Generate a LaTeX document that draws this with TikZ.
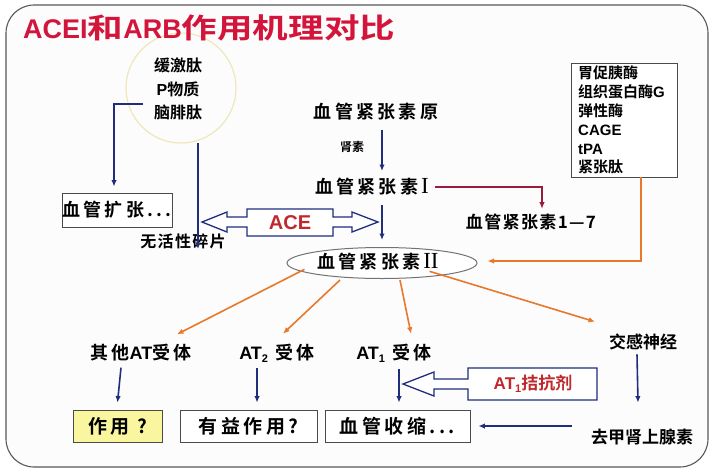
\documentclass[tikz,border=0pt]{standalone}
\usepackage{fontspec}
\usetikzlibrary{arrows.meta,shapes.geometric}
\newfontfamily\cjk{Noto Sans CJK SC Bold}
\newfontfamily\cjksp[LetterSpace=18]{Noto Sans CJK SC Bold}
\newfontfamily\cjkss[LetterSpace=8]{Noto Sans CJK SC Bold}
\newfontfamily\lat{Liberation Sans Bold}
\newfontfamily\rmI{Liberation Serif}
\newcommand\sbn[1]{\raisebox{-0.3ex}{\fontsize{11}{11}\selectfont #1}}
\newcommand\wide[1]{\scalebox{1.27}[1]{#1}}
\definecolor{navy}{HTML}{1F2D7B}
\definecolor{orng}{HTML}{E8782A}
\definecolor{dred}{HTML}{9B1B3F}
\definecolor{tred}{HTML}{D4153B}
\definecolor{lred}{HTML}{C0282D}
\definecolor{boxgray}{HTML}{4A4A4A}
\definecolor{yel}{HTML}{FAF6A0}
\definecolor{cyel}{HTML}{EEE8B8}
\begin{document}
\begin{tikzpicture}[x=1pt,y=-1pt,
  bigl/.style={font=\cjksp\fontsize{18}{20}\selectfont, inner sep=0pt},
  midl/.style={font=\cjkss\fontsize{17}{20}\selectfont, inner sep=0pt},
  smal/.style={font=\cjk\fontsize{15}{18.8}\selectfont, inner sep=0pt},
  bx/.style={draw=boxgray, line width=0.9pt, fill=white, inner sep=0pt},
  bluearr/.style={draw=navy, line width=1.6pt, -{Latex[length=6.5pt,width=5.5pt]}},
  orarr/.style={draw=orng, line width=1.6pt, -{Latex[length=6.5pt,width=5.5pt]}},
  redarr/.style={draw=dred, line width=1.4pt, -{Latex[length=6.5pt,width=5.5pt]}},
  hollow/.style={draw=navy, line width=1.3pt, fill=white, line join=miter},
]
\useasboundingbox (0,0) rectangle (713,475);
\fill[white] (0,0) rectangle (713,475);
\draw[rounded corners=28pt, line width=1.1pt, draw=black!65, fill=black!1] (6,5) rectangle (708,467);

% kinins circle
\node[circle, draw=cyel, line width=1.2pt, minimum size=110pt] (circ) at (181,88) {};
\node[align=center, font=\cjk\fontsize{16}{23.5}\selectfont, inner sep=0pt] (kin) at (178,89) {缓激肽\\{\lat P}物质\\脑腓肽};

% title
\node[anchor=west, inner sep=0pt, text=tred, font=\cjk\fontsize{28}{34}\selectfont] (title) at (23,28) {{\lat\fontsize{27}{30}\selectfont ACEI}\wide{和}{\lat\fontsize{27}{30}\selectfont ARB}\wide{作用机理对比}};

% left column
\node[bx, minimum width=110pt, minimum height=34pt, font=\cjksp\fontsize{18}{20}\selectfont] (dil) at (117,210) {血管扩张...};
\node[font=\cjkss\fontsize{16}{18}\selectfont, inner sep=0pt] (frag) at (183,241) {无活性碎片};
\coordinate (k0) at (143,104);
\coordinate (f0) at (198,143);
\coordinate (f1) at (198,249);

% central column
\node[bigl] (ago) at (376,112) {血管紧张素原};
\node[font=\cjk\fontsize{12}{14}\selectfont, inner sep=0pt] (renin) at (352,147) {肾素};
\node[bigl] (ang1) at (372,187) {血管紧张素\,{\rmI\fontsize{23}{20}\selectfont I}};
\node[midl] (a17) at (531,222) {血管紧张素1—7};
\node[ellipse, draw=black!55, line width=1pt, fill=white, minimum width=190pt, minimum height=31pt, inner sep=0pt] (ang2) at (382,263) {};
\node[bigl] (ang2t) at (378,262) {血管紧张素\,{\rmI\fontsize{23}{20}\selectfont II}};
\coordinate (c0) at (382,130);
\coordinate (c1) at (382,171);
\coordinate (c2) at (382,205);
\coordinate (c3) at (382,240);

% right enzymes box
\node[bx, minimum width=106pt, minimum height=114pt] (enz) at (624,120) {};
\node[smal, anchor=north west, align=left] (enzt) at (578,66) {胃促胰酶\\组织蛋白酶{\lat G}\\弹性酶\\{\lat CAGE}\\{\lat tPA}\\紧张肽};

% ACE hollow double arrow
\draw[hollow] (202,222) -- (227,212) -- (227,217) -- (247,217) -- (247,209) -- (333,209) -- (333,217) -- (352,217) -- (352,212) -- (378,222) -- (352,232) -- (352,227) -- (333,227) -- (333,236) -- (247,236) -- (247,227) -- (227,227) -- (227,232) -- cycle;
\node[text=lred, font=\lat\fontsize{20}{20}\selectfont, inner sep=0pt] (ace) at (290,223) {ACE};

% receptors row
\node[bigl] (ato) at (141,353) {其他{\lat AT}受体};
\node[bigl] (at2) at (277,353) {{\lat AT\sbn{2}} 受体};
\node[bigl] (at1) at (394,353) {{\lat AT\sbn{1}} 受体};
\node[font=\cjk\fontsize{17}{20}\selectfont, inner sep=0pt] (symp) at (643,342) {交感神经};

% bottom boxes
\node[bx, fill=yel, minimum width=89pt, minimum height=32pt, font=\cjksp\fontsize{19}{20}\selectfont] (eff) at (117.5,426) {作用 ?};
\node[bx, minimum width=137pt, minimum height=32pt, font=\cjksp\fontsize{19}{20}\selectfont] (ben) at (248.5,426) {有益作用?};
\node[bx, minimum width=145pt, minimum height=32pt, font=\cjksp\fontsize{19}{20}\selectfont] (vaso) at (397.5,426) {血管收缩...};
\node[font=\cjk\fontsize{17}{20}\selectfont, inner sep=0pt] (ne) at (642,437) {去甲肾上腺素};
\coordinate (n0) at (572,426);

% AT1 antagonist hollow arrow
\draw[hollow] (403,384) -- (434,372) -- (434,379) -- (468,379) -- (468,368) -- (597,368) -- (597,400) -- (468,400) -- (468,389) -- (434,389) -- (434,396) -- cycle;
\node[text=lred, font=\cjk\fontsize{17}{20}\selectfont, inner sep=0pt] (ant) at (533,384) {{\lat AT\sbn{1}}拮抗剂};

% connectors
\draw[bluearr] (k0) -| ([xshift=-3pt,yshift=6pt]dil.north);
\draw[bluearr] (f0) -- (f1);
\draw[bluearr] (c0) -- (c1);
\draw[bluearr] (c2) -- (c3);
\draw[redarr] ([xshift=6pt]ang1.east) -| ([xshift=11pt,yshift=5pt]a17.north);
\draw[orarr] ([xshift=17pt]enz.south) |- ([xshift=10pt,yshift=2pt]ang2.east);
\draw[orarr] (ang2.south west) ++(-10,-5) coordinate (o1) (o1) -- ([xshift=36pt,yshift=10pt]ato.north);
\draw[orarr] ([xshift=-42pt,yshift=-1pt]ang2.south) -- ([xshift=6pt,yshift=10pt]at2.north);
\draw[orarr] ([xshift=18pt,yshift=-1pt]ang2.south) -- ([xshift=17pt,yshift=10pt]at1.north);
\draw[orarr] ([xshift=-20pt,yshift=3pt]ang2.south east) -- ([xshift=-48pt,yshift=12pt]symp.north);
\draw[bluearr] ([xshift=-20pt,yshift=-6pt]ato.south) -- ([yshift=7pt]eff.north);
\draw[bluearr] ([xshift=-20pt,yshift=-6pt]at2.south) -- ([xshift=8.5pt,yshift=7pt]ben.north);
\draw[bluearr] ([xshift=5pt,yshift=-7pt]at1.south) -- ([xshift=1.5pt,yshift=7pt]vaso.north);
\draw[bluearr] ([xshift=-6pt,yshift=-4pt]symp.south) -- ([xshift=-5pt,yshift=7pt]symp.south |- vaso.north);
\draw[bluearr] (n0) -- ([xshift=8pt]vaso.east);
\end{tikzpicture}
\end{document}
